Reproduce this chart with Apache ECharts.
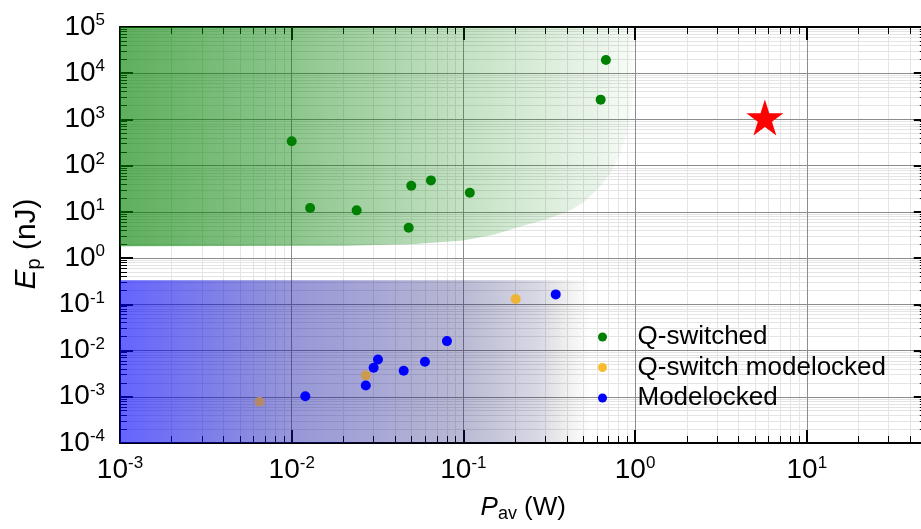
<!DOCTYPE html>
<html><head><meta charset="utf-8">
<script src="https://cdn.jsdelivr.net/npm/echarts@6/dist/echarts.min.js"></script>
<style>html,body{margin:0;padding:0;background:#fff}#c{width:921px;height:529px}</style>
</head><body><div id="c"></div>
<script>
// ---- data ----
const qsP   = [0.01, 0.0128, 0.0239, 0.048, 0.0497, 0.0647, 0.109, 0.63, 0.676];
const qsE   = [336, 12.1, 10.8, 4.55, 36.9, 48, 26, 2680, 19300];
const qsmlP = [0.0065, 0.027, 0.2016];
const qsmlE = [0.00078, 0.0029, 0.130];
const mlP   = [0.012, 0.027, 0.030, 0.0318, 0.0449, 0.0597, 0.0802, 0.345];
const mlE   = [0.00103, 0.00176, 0.00425, 0.00642, 0.00366, 0.00573, 0.016, 0.164];
const targetP = [5.7];
const targetE = [1000];
const qsRegionP = [0.001, 0.02, 0.05, 0.1, 0.15, 0.21, 0.3, 0.42, 0.5, 0.62, 0.72, 0.82, 0.9, 0.95, 0.98, 1.0];
const qsRegionE = [1.8, 1.85, 2.0, 2.4, 3.2, 4.7, 6.8, 10.8, 16, 34, 70, 184, 500, 1500, 5000, 100000];
const mlRegionP = [0.001, 0.55];
const mlRegionE = [0.33, 0.33];
const legendNames = ['Q-switched', 'Q-switch modelocked', 'Modelocked'];
const xDecades = [-3, -2, -1, 0, 1];
const yDecades = [-4, -3, -2, -1, 0, 1, 2, 3, 4];
const minorMultipliers = [2, 3, 4, 5, 6, 7, 8, 9];

const minorValues = decs => decs.flatMap(k => minorMultipliers.map(m => +(m * Math.pow(10, k)).toPrecision(6)));
const xMinor = minorValues(xDecades);
const yMinor = minorValues(yDecades);
const zip = (a, b) => a.map((v, i) => [v, b[i]]);
const FONT = '"Liberation Sans", Arial, sans-serif';
const fmt = v => { const e = Math.round(Math.log10(v)); return '{b|10}{s|' + e + '}'; };
const labelRich = {
  b: {fontSize: 28, fontFamily: FONT, color: '#000', lineHeight: 30},
  s: {fontSize: 17, fontFamily: FONT, color: '#000', verticalAlign: 'top', lineHeight: 12}
};
const STAR = 'path://M0,-1 L0.2245,-0.309 L0.951,-0.309 L0.363,0.118 L0.588,0.809 L0,0.382 L-0.588,0.809 L-0.363,0.118 L-0.951,-0.309 L-0.2245,-0.309 Z';

function majorAxis(extra) {
  return Object.assign({
    type: 'log', logBase: 10, z: 1,
    axisLine: {show: true, onZero: false, lineStyle: {color: '#000', width: 2}},
    axisTick: {show: true, inside: true, length: 13, lineStyle: {color: '#000', width: 2}},
    minorTick: {show: false}, minorSplitLine: {show: false},
    splitLine: {show: false}, axisLabel: {show: false}
  }, extra);
}
function minorAxis(extra, values, grid) {
  return Object.assign({
    type: 'log', logBase: 10, z: 0,
    axisLine: {show: false, onZero: false},
    axisTick: {show: true, inside: true, length: 7, customValues: values, lineStyle: {color: '#000', width: 1}},
    minorTick: {show: false}, minorSplitLine: {show: false},
    splitLine: {show: grid, lineStyle: {color: '#e4e4e4', width: 1}},
    axisLabel: {show: false}
  }, extra);
}

const chart = echarts.init(document.getElementById('c'), null, {renderer: 'canvas'});
chart.setOption({
  animation: false,
  backgroundColor: '#fff',
  grid: {left: 120, right: -57.5, top: 27, bottom: 86, containLabel: false, outerBoundsMode: 'none'},
  legend: {
    data: legendNames, orient: 'vertical', left: 593, top: 319,
    icon: 'circle', itemWidth: 60, itemHeight: 9, itemGap: 4.5,
    textStyle: {fontSize: 26, fontFamily: FONT, color: '#000', lineHeight: 26},
    selectedMode: false
  },
  xAxis: [
    majorAxis({
      min: 0.001, max: 100, position: 'bottom',
      splitLine: {show: true, lineStyle: {color: '#8c8c8c', width: 1}},
      axisLabel: {show: true, formatter: fmt, rich: labelRich, margin: 12},
      name: '{i|P}{sub|av}{n| (W)}', nameLocation: 'middle', nameGap: 50,
      nameTextStyle: {padding: [0, 52, 0, 0], rich: {
        i: {fontSize: 26, fontStyle: 'italic', fontFamily: FONT, color: '#000', lineHeight: 30},
        sub: {fontSize: 18, fontFamily: FONT, color: '#000', verticalAlign: 'bottom', lineHeight: 12},
        n: {fontSize: 26, fontFamily: FONT, color: '#000', lineHeight: 30}
      }}
    }),
    minorAxis({min: 0.001, max: 100, position: 'bottom'}, xMinor, true),
    majorAxis({min: 0.001, max: 100, position: 'top'}),
    minorAxis({min: 0.001, max: 100, position: 'top'}, xMinor, false)
  ],
  yAxis: [
    majorAxis({
      min: 0.0001, max: 100000, position: 'left',
      splitLine: {show: true, lineStyle: {color: '#8c8c8c', width: 1}},
      axisLabel: {show: true, formatter: fmt, rich: labelRich, margin: 15},
      name: '{i|E}{sub|p}{n| (nJ)}', nameLocation: 'middle', nameGap: 76,
      nameTextStyle: {padding: [0, 18, 0, 0], rich: {
        i: {fontSize: 30, fontStyle: 'italic', fontFamily: FONT, color: '#000', lineHeight: 34},
        sub: {fontSize: 20, fontFamily: FONT, color: '#000', verticalAlign: 'bottom', lineHeight: 14},
        n: {fontSize: 30, fontFamily: FONT, color: '#000', lineHeight: 34}
      }}
    }),
    minorAxis({min: 0.0001, max: 100000, position: 'left'}, yMinor, true),
    majorAxis({min: 0.0001, max: 100000, position: 'right', offset: -51.7}),
    minorAxis({min: 0.0001, max: 100000, position: 'right', offset: -51.7}, yMinor, false)
  ],
  series: [
    {name: 'mlRegionBase', type: 'line', data: zip(mlRegionP, mlRegionE), showSymbol: false, silent: true,
     lineStyle: {width: 0, opacity: 0}, z: 1.5,
     areaStyle: {origin: 'start', opacity: 1, color: {type: 'linear', x: 0, y: 0, x2: 1, y2: 0, colorStops: [
       {offset: 0, color: 'rgba(0,0,255,0.345)'},
       {offset: 0.364, color: 'rgba(40,40,60,0.26)'},
       {offset: 0.723, color: 'rgba(19,19,35,0.22)'},
       {offset: 0.894, color: 'rgba(0,0,47,0.13)'},
       {offset: 1, color: 'rgba(0,0,0,0)'}
     ]}}},
    {name: 'Q-switched', type: 'scatter', data: zip(qsP, qsE), symbolSize: 10,
     itemStyle: {color: '#008000', opacity: 1}, z: 2},
    {name: 'Q-switch modelocked', type: 'scatter', data: zip(qsmlP, qsmlE), symbolSize: 10,
     itemStyle: {color: '#f8bc2c', opacity: 1}, z: 2},
    {name: 'Modelocked', type: 'scatter', data: zip(mlP, mlE), symbolSize: 10,
     itemStyle: {color: '#0000ff', opacity: 1}, z: 2},
    {name: 'target', type: 'scatter', data: zip(targetP, targetE), symbol: STAR,
     symbolSize: [37, 36], symbolOffset: [0, -2], itemStyle: {color: '#ff0000', opacity: 1}, z: 2},
    {name: 'qsRegion', type: 'line', data: zip(qsRegionP, qsRegionE), showSymbol: false, silent: true,
     lineStyle: {width: 0, opacity: 0}, z: 3,
     areaStyle: {origin: 'end', opacity: 1, color: {type: 'linear', x: 0, y: 0, x2: 1, y2: 0, colorStops: [
       {offset: 0, color: 'rgba(0,128,0,0.63)'},
       {offset: 0.333, color: 'rgba(0,128,0,0.45)'},
       {offset: 0.661, color: 'rgba(0,128,0,0.235)'},
       {offset: 0.934, color: 'rgba(0,128,0,0.08)'},
       {offset: 1, color: 'rgba(0,128,0,0.02)'}
     ]}}},
    {name: 'mlRegionTint', type: 'line', data: zip(mlRegionP, mlRegionE), showSymbol: false, silent: true,
     lineStyle: {width: 0, opacity: 0}, z: 3,
     areaStyle: {origin: 'start', opacity: 1, color: {type: 'linear', x: 0, y: 0, x2: 1, y2: 0, colorStops: [
       {offset: 0, color: 'rgba(0,0,255,0.4)'},
       {offset: 0.94, color: 'rgba(0,0,255,0)'},
       {offset: 1, color: 'rgba(0,0,255,0)'}
     ]}}}
  ]
});
</script></body></html>
